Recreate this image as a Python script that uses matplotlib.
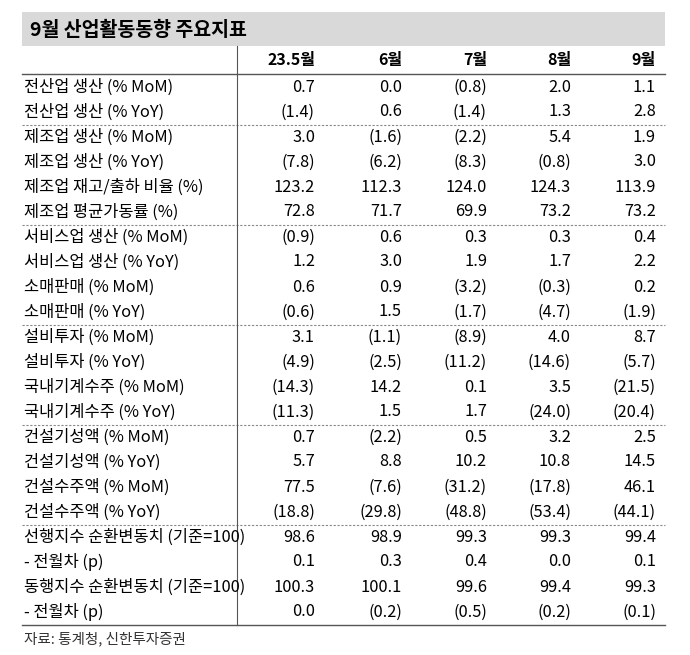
import matplotlib.pyplot as plt

plt.rcParams['font.family'] = ['Noto Sans CJK KR', 'DejaVu Sans']

title = '9월 산업활동동향 주요지표'
columns = ['23.5월', '6월', '7월', '8월', '9월']
labels = [
    '전산업 생산 (% MoM)', '전산업 생산 (% YoY)',
    '제조업 생산 (% MoM)', '제조업 생산 (% YoY)', '제조업 재고/출하 비율 (%)', '제조업 평균가동률 (%)',
    '서비스업 생산 (% MoM)', '서비스업 생산 (% YoY)', '소매판매 (% MoM)', '소매판매 (% YoY)',
    '설비투자 (% MoM)', '설비투자 (% YoY)', '국내기계수주 (% MoM)', '국내기계수주 (% YoY)',
    '건설기성액 (% MoM)', '건설기성액 (% YoY)', '건설수주액 (% MoM)', '건설수주액 (% YoY)',
    '선행지수 순환변동치 (기준=100)', '- 전월차 (p)', '동행지수 순환변동치 (기준=100)', '- 전월차 (p)',
]
values = [
    [0.7, 0.0, -0.8, 2.0, 1.1],
    [-1.4, 0.6, -1.4, 1.3, 2.8],
    [3.0, -1.6, -2.2, 5.4, 1.9],
    [-7.8, -6.2, -8.3, -0.8, 3.0],
    [123.2, 112.3, 124.0, 124.3, 113.9],
    [72.8, 71.7, 69.9, 73.2, 73.2],
    [-0.9, 0.6, 0.3, 0.3, 0.4],
    [1.2, 3.0, 1.9, 1.7, 2.2],
    [0.6, 0.9, -3.2, -0.3, 0.2],
    [-0.6, 1.5, -1.7, -4.7, -1.9],
    [3.1, -1.1, -8.9, 4.0, 8.7],
    [-4.9, -2.5, -11.2, -14.6, -5.7],
    [-14.3, 14.2, 0.1, 3.5, -21.5],
    [-11.3, 1.5, 1.7, -24.0, -20.4],
    [0.7, -2.2, 0.5, 3.2, 2.5],
    [5.7, 8.8, 10.2, 10.8, 14.5],
    [77.5, -7.6, -31.2, -17.8, 46.1],
    [-18.8, -29.8, -48.8, -53.4, -44.1],
    [98.6, 98.9, 99.3, 99.3, 99.4],
    [0.1, 0.3, 0.4, 0.0, 0.1],
    [100.3, 100.1, 99.6, 99.4, 99.3],
    [0.0, -0.2, -0.5, -0.2, -0.1],
]
group_ends = [2, 6, 10, 14, 18]
source = '자료: 통계청, 신한투자증권'


def fmt(v):
    return f'({abs(v):.1f})' if v < 0 else f'{v:.1f}'


fig = plt.figure(figsize=(6.9, 6.55), dpi=100)
ax = fig.add_axes([0, 0, 1, 1])
ax.set_xlim(0, 690)
ax.set_ylim(655, 0)
ax.axis('off')

left, right = 22, 665
col_x = [315, 402, 487, 571, 656]
row_h = 25.0
first_row = 87

# title bar
ax.add_patch(plt.Rectangle((left, 12), right - left, 34, color='#d9d9d9', lw=0))
ax.text(30, 30, title, fontsize=14, fontweight='bold', va='center')

# header
for x, c in zip(col_x, columns):
    ax.text(x, 60, c, fontsize=11.5, fontweight='bold', ha='right', va='center')
ax.plot([left, right], [74, 74], color='#555555', lw=1)

for i, (lab, row) in enumerate(zip(labels, values)):
    y = first_row + i * row_h
    ax.text(24, y, lab, fontsize=11.8, va='center')
    for x, v in zip(col_x, row):
        ax.text(x, y, fmt(v), fontsize=11.8, ha='right', va='center')

for g in group_ends:
    y = first_row + (g - 0.5) * row_h
    ax.plot([left, right], [y, y], color='#888888', lw=0.8, ls=(0, (2, 1.5)))

bottom = first_row + (len(labels) - 0.5) * row_h
ax.plot([left, right], [bottom, bottom], color='#555555', lw=1)
ax.plot([237, 237], [46, bottom], color='#555555', lw=0.8)

ax.text(24, bottom + 14, source, fontsize=10.5, va='center', color='#333333')

fig.savefig('out.png', dpi=100, facecolor='white')
